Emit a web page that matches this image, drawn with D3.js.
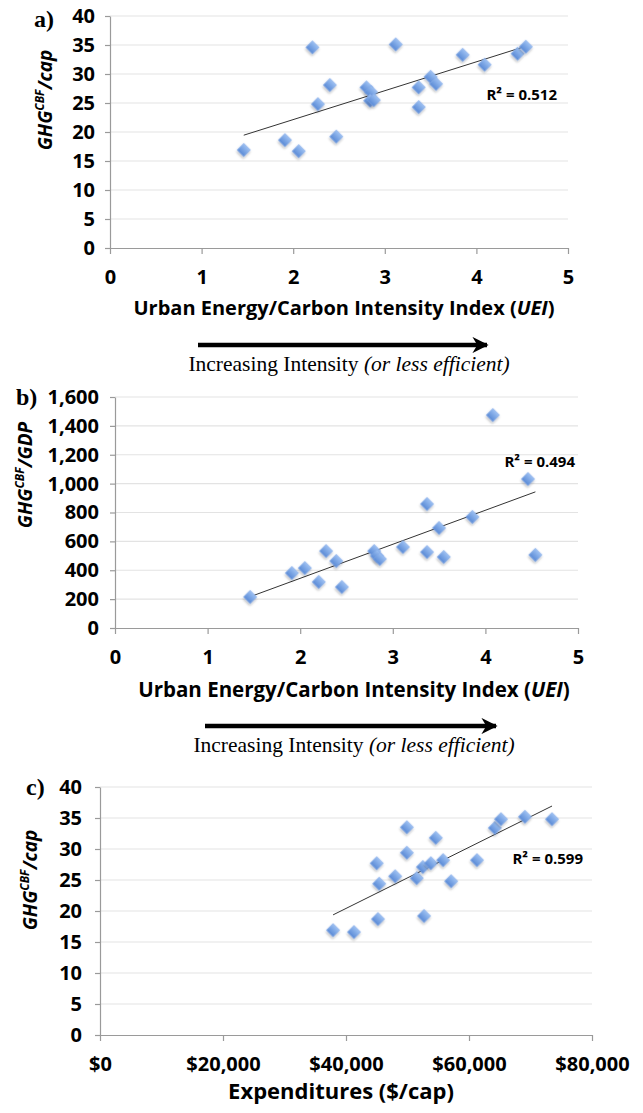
<!doctype html>
<html lang="en">
<head>
<meta charset="utf-8">
<title>GHG CBF vs UEI and expenditures</title>
<style>
  body { margin: 0; background: #fff; }
  .tick text { font-family: "Open Sans", Lato, sans-serif; font-weight: bold; fill: #000; }
</style>
</head>
<body>
<svg width="643" height="1113"></svg>
<script src="https://d3js.org/d3.v7.min.js"></script>
<script>
// panel a: UEI vs GHG-CBF per cap
var ueiA = [1.46, 1.91, 2.06, 2.21, 2.27, 2.40, 2.47, 2.80, 2.85, 2.84, 2.88, 3.12, 3.37, 3.37, 3.50, 3.56, 3.85, 4.09, 4.45, 4.54];
var ghgCapA = [16.9, 18.6, 16.7, 34.6, 24.8, 28.1, 19.2, 27.7, 26.9, 25.4, 25.5, 35.1, 27.7, 24.3, 29.5, 28.3, 33.3, 31.6, 33.5, 34.7];

// panel b: UEI vs GHG-CBF per GDP
var ueiB = [1.46, 1.91, 2.05, 2.20, 2.28, 2.39, 2.45, 2.80, 2.83, 2.86, 3.11, 3.37, 3.37, 3.50, 3.55, 3.86, 4.08, 4.46, 4.54];
var ghgGdpB = [215, 381, 415, 319, 533, 464, 284, 533, 499, 478, 561, 859, 526, 693, 492, 769, 1475, 1032, 506];

// panel c: expenditures vs GHG-CBF per cap
var expC = [37900, 41300, 45200, 45000, 45400, 48000, 49900, 49900, 51500, 52500, 52700, 53800, 54600, 55800, 57100, 61300, 64200, 65200, 69100, 73500];
var ghgCapC = [16.9, 16.6, 18.7, 27.7, 24.4, 25.6, 33.5, 29.4, 25.3, 27.1, 19.2, 27.7, 31.8, 28.2, 24.8, 28.2, 33.4, 34.8, 35.2, 34.8];

var r2Labels = ["R\u00b2 = 0.512", "R\u00b2 = 0.494", "R\u00b2 = 0.599"];
var ueiTicks = [0, 1, 2, 3, 4, 5];
var capTicks = [0, 5, 10, 15, 20, 25, 30, 35, 40];
var gdpTicks = [0, 200, 400, 600, 800, 1000, 1200, 1400, 1600];
var expTicks = [0, 20000, 40000, 60000, 80000];

var svg = d3.select("svg");
var sans = "'Open Sans', Lato, sans-serif";
var serif = "'Liberation Serif', 'DejaVu Serif', serif";

var defs = svg.append("defs");
var grad = defs.append("linearGradient").attr("id", "dia")
    .attr("x1", 0).attr("y1", 0).attr("x2", 0).attr("y2", 1);
grad.append("stop").attr("offset", "0%").attr("stop-color", "#9cc0f2");
grad.append("stop").attr("offset", "100%").attr("stop-color", "#5a8ad6");
var shadow = defs.append("filter").attr("id", "shadow")
    .attr("x", "-50%").attr("y", "-50%").attr("width", "200%").attr("height", "200%");
shadow.append("feDropShadow").attr("dx", 1).attr("dy", 1.5).attr("stdDeviation", 1)
    .attr("flood-color", "#000").attr("flood-opacity", 0.3);
defs.append("marker").attr("id", "head")
    .attr("viewBox", "0 0 10 10").attr("refX", 9).attr("refY", 5)
    .attr("markerWidth", 3.6).attr("markerHeight", 3.6).attr("orient", "auto")
    .attr("markerUnits", "strokeWidth")
  .append("path").attr("d", "M0,0 L10,5 L0,10 L3,5 Z").attr("fill", "#000");

// least squares fit
function fit(xs, ys) {
  var mx = d3.mean(xs), my = d3.mean(ys), sxy = 0, sxx = 0;
  xs.forEach(function(x, i) { sxy += (x - mx) * (ys[i] - my); sxx += (x - mx) * (x - mx); });
  var b = sxy / sxx;
  return { b: b, a: my - b * mx };
}

function panel(o) {
  var x = d3.scaleLinear().domain(o.xDomain).range([o.left, o.right]);
  var y = d3.scaleLinear().domain(o.yDomain).range([o.bottom, o.top]);
  var g = svg.append("g");

  // gridlines
  g.append("g").selectAll("line").data(o.yTicks.slice(1)).enter().append("line")
      .attr("x1", o.left).attr("x2", o.right)
      .attr("y1", function(d) { return y(d); }).attr("y2", function(d) { return y(d); })
      .attr("stroke", "#e3e3e3").attr("stroke-width", 1.2);

  var yAxis = g.append("g").attr("transform", "translate(" + o.left + ",0)")
      .call(d3.axisLeft(y).tickValues(o.yTicks).tickFormat(o.yFormat).tickSize(5).tickPadding(o.yPad).tickSizeOuter(0));
  yAxis.selectAll("text").attr("font-size", 20);
  var xAxis = g.append("g").attr("transform", "translate(0," + o.bottom + ")")
      .call(d3.axisBottom(x).tickValues(o.xTicks).tickFormat(o.xFormat).tickSize(6).tickPadding(16).tickSizeOuter(0));
  xAxis.selectAll("text").attr("font-size", 20);
  g.selectAll(".domain, .tick line").attr("stroke", "#9a9a9a").attr("stroke-width", 1.2);

  // trend line
  var f = fit(o.xs, o.ys);
  var x0 = d3.min(o.xs), x1 = d3.max(o.xs);
  g.append("line")
      .attr("x1", x(x0)).attr("y1", y(f.a + f.b * x0))
      .attr("x2", x(x1)).attr("y2", y(f.a + f.b * x1))
      .attr("stroke", "#333").attr("stroke-width", 1);

  // points
  g.append("g").selectAll("path").data(o.xs).enter().append("path")
      .attr("d", d3.symbol().type(d3.symbolSquare).size(88))
      .attr("transform", function(d, i) { return "translate(" + x(d) + "," + y(o.ys[i]) + ") rotate(45)"; })
      .attr("fill", "url(#dia)").attr("stroke", "#7fa8e6").attr("stroke-width", 0.5)
      .attr("filter", "url(#shadow)");

  // R squared
  g.append("text").attr("x", o.r2x).attr("y", o.r2y)
      .attr("text-anchor", "end").attr("font-family", sans).attr("font-weight", "bold")
      .attr("font-size", 15).text(o.r2);

  // panel letter
  svg.append("text").attr("x", o.labelX).attr("y", o.labelY)
      .attr("font-family", serif).attr("font-weight", "bold").attr("font-size", 24)
      .text(o.label);

  // y title
  var yt = svg.append("text")
      .attr("transform", "translate(" + o.ytX + "," + o.ytY + ") rotate(-90)")
      .attr("text-anchor", "middle").attr("font-family", sans).attr("font-weight", "bold")
      .attr("font-style", "italic").attr("font-size", 19);
  yt.append("tspan").text("GHG");
  yt.append("tspan").attr("font-size", 12).attr("dy", -8).text("CBF");
  yt.append("tspan").attr("dy", 8).text("/" + o.yUnit);

  // x title
  var xt = svg.append("text").attr("x", o.xtX).attr("y", o.xtY)
      .attr("text-anchor", "middle").attr("font-family", sans).attr("font-weight", "bold")
      .attr("font-size", o.xtSize);
  if (o.uei) {
    xt.append("tspan").text("Urban Energy/Carbon Intensity Index ");
    xt.append("tspan").text("(");
    xt.append("tspan").attr("font-style", "italic").text("UEI");
    xt.append("tspan").text(")");

    svg.append("line").attr("x1", o.arX0).attr("x2", o.arX1).attr("y1", o.arY).attr("y2", o.arY)
        .attr("stroke", "#000").attr("stroke-width", 4.5).attr("marker-end", "url(#head)");
    var it = svg.append("text").attr("x", o.itX).attr("y", o.arY + 26)
        .attr("text-anchor", "middle").attr("font-family", serif).attr("font-size", 21.5);
    it.append("tspan").text("Increasing Intensity ");
    it.append("tspan").attr("font-style", "italic").text("(or less efficient)");
  } else {
    xt.text("Expenditures ($/cap)");
  }
}

panel({
  xs: ueiA, ys: ghgCapA, xDomain: [0, 5], yDomain: [0, 40],
  xTicks: ueiTicks, yTicks: capTicks, xFormat: d3.format("d"), yFormat: d3.format("d"),
  left: 110, right: 568, top: 16, bottom: 248, yPad: 10,
  r2: r2Labels[0], r2x: 557, r2y: 100, label: "a)", labelX: 34, labelY: 27,
  ytX: 52, ytY: 100, yUnit: "cap", uei: true, xtX: 344, xtY: 315, xtSize: 20,
  arX0: 198, arX1: 487, arY: 345, itX: 349
});

panel({
  xs: ueiB, ys: ghgGdpB, xDomain: [0, 5], yDomain: [0, 1600],
  xTicks: ueiTicks, yTicks: gdpTicks, xFormat: d3.format("d"), yFormat: d3.format(","),
  left: 115, right: 578, top: 397, bottom: 628, yPad: 11,
  r2: r2Labels[1], r2x: 575, r2y: 467, label: "b)", labelX: 16, labelY: 405,
  ytX: 32, ytY: 475, yUnit: "GDP", uei: true, xtX: 354, xtY: 697, xtSize: 20.5,
  arX0: 205, arX1: 496, arY: 726, itX: 354
});

panel({
  xs: expC, ys: ghgCapC, xDomain: [0, 80000], yDomain: [0, 40],
  xTicks: expTicks, yTicks: capTicks, xFormat: d3.format("$,"), yFormat: d3.format("d"),
  left: 100, right: 592, top: 787, bottom: 1035, yPad: 13,
  r2: r2Labels[2], r2x: 583, r2y: 864, label: "c)", labelX: 26, labelY: 795,
  ytX: 37, ytY: 880, yUnit: "cap", uei: false, xtX: 341, xtY: 1099, xtSize: 22
});
</script>
</body>
</html>
